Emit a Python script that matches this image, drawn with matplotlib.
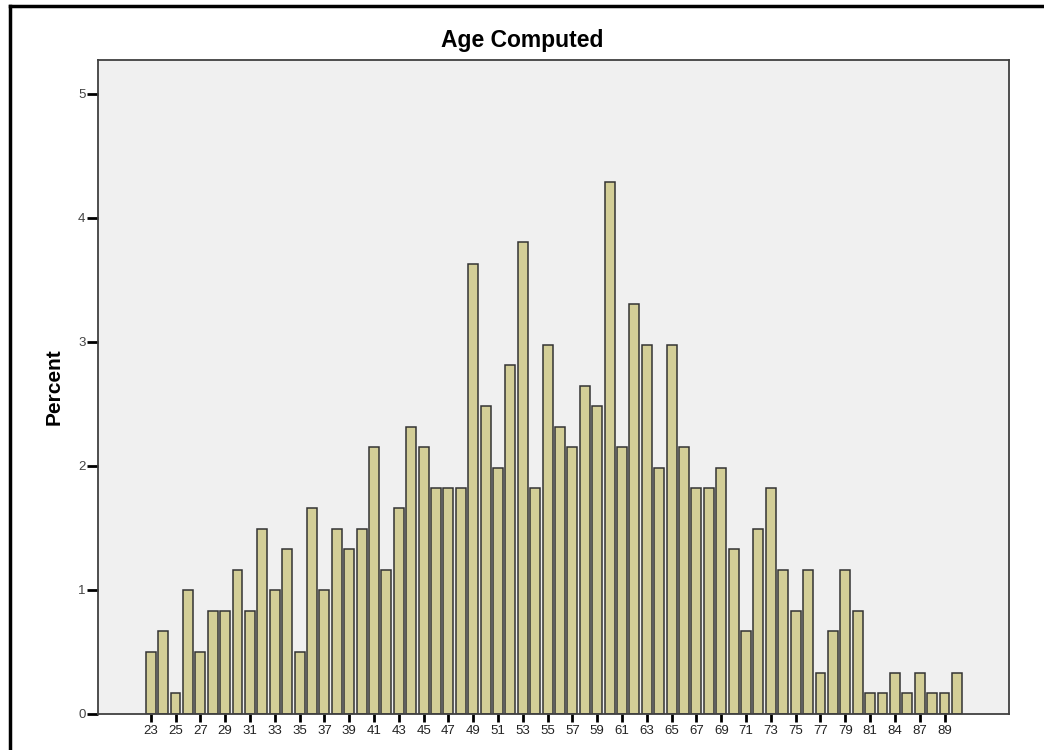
import numpy as np
import matplotlib.pyplot as plt
from matplotlib.lines import Line2D

# edades (categorias) y porcentaje
edades = [23, 24, 25, 26, 27, 28, 29, 30, 31, 32, 33, 34, 35, 36, 37, 38, 39, 40,
          41, 42, 43, 44, 45, 46, 47, 48, 49, 50, 51, 52, 53, 54, 55, 56, 57, 58,
          59, 60, 61, 62, 63, 64, 65, 66, 67, 68, 69, 70, 71, 72, 73, 74, 75, 76,
          77, 78, 79, 80, 81, 82, 84, 85, 87, 88, 89, 90]
porcentaje = [0.50, 0.67, 0.17, 1.00, 0.50, 0.83, 0.83, 1.16, 0.83, 1.49, 1.00, 1.33,
              0.50, 1.66, 1.00, 1.49, 1.33, 1.49, 2.15, 1.16, 1.66, 2.31, 2.15, 1.82,
              1.82, 1.82, 3.63, 2.48, 1.98, 2.81, 3.80, 1.82, 2.97, 2.31, 2.15, 2.64,
              2.48, 4.29, 2.15, 3.30, 2.97, 1.98, 2.97, 2.15, 1.82, 1.82, 1.98, 1.33,
              0.67, 1.49, 1.82, 1.16, 0.83, 1.16, 0.33, 0.67, 1.16, 0.83, 0.17, 0.17,
              0.33, 0.17, 0.33, 0.17, 0.17, 0.33]
etiquetas_x = ['23', '25', '27', '29', '31', '33', '35', '37', '39', '41', '43', '45',
               '47', '49', '51', '53', '55', '57', '59', '61', '63', '65', '67', '69',
               '71', '73', '75', '77', '79', '81', '84', '87', '89']

plt.rcParams['font.family'] = ['Liberation Sans', 'DejaVu Sans']

fig = plt.figure(figsize=(10.44, 7.5), dpi=100)
ax = fig.add_axes([98 / 1044, 36 / 750, 911 / 1044, 654 / 750])
ax.set_facecolor('#f0f0f0')

x = np.arange(len(edades))
ax.bar(x, porcentaje, width=0.8, color='#d3ce97', edgecolor='#333333', linewidth=1.1)

ax.set_xticks(x[::2])
ax.set_xticklabels(etiquetas_x, fontsize=9.5)
ax.set_xlim(-4.25, 69.2)
ax.set_ylim(0, 5.27)
ax.set_yticks([0, 1, 2, 3, 4, 5])
ax.set_yticklabels(['0', '1', '2', '3', '4', '5'], fontsize=9.5)
ax.tick_params(axis='x', length=6, width=2, pad=2, colors='black', labelcolor='#222222')
ax.tick_params(axis='y', length=8, width=2, pad=1, labelcolor='#444444')
for lado in ax.spines.values():
    lado.set_color('#404040')
    lado.set_linewidth(1.3)

ax.set_ylabel('Percent', fontsize=15, fontweight='bold', labelpad=10)
fig.text(0.5, 1 - 47 / 750, 'Age Computed', fontsize=16.5, fontweight='bold',
         ha='center', va='baseline')

# marco exterior (solo izquierda y arriba visibles)
fig.add_artist(Line2D([10 / 1044, 10 / 1044], [0, 1 - 6 / 750], color='black', lw=2.5))
fig.add_artist(Line2D([10 / 1044, 1], [1 - 6 / 750, 1 - 6 / 750], color='black', lw=2.5))

plt.savefig('out.png', dpi=100)
plt.close()
